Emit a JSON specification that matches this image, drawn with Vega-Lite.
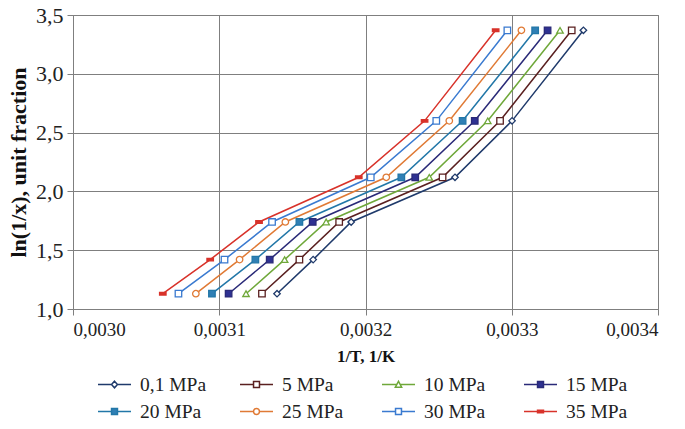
{
  "$schema": "https://vega.github.io/schema/vega-lite/v6.json",
  "width": 585,
  "height": 294,
  "autosize": {"type": "none"},
  "padding": {"left": 73, "top": 15, "right": 27, "bottom": 120},
  "background": "white",
  "config": {
    "font": "Liberation Serif",
    "view": {"stroke": "#7f7f7f", "strokeWidth": 1},
    "axis": {
      "gridColor": "#7f7f7f", "gridOpacity": 1, "gridWidth": 1,
      "domainColor": "#7f7f7f", "tickColor": "#7f7f7f", "tickSize": 6,
      "labelFont": "Liberation Serif", "labelColor": "#222",
      "titleFont": "Liberation Serif", "titleFontWeight": "bold", "titleColor": "#111"
    }
  },
  "data": {"values": [
    {"p": "0,1 MPa", "x": 0.0031395, "y": 1.13}, {"p": "0,1 MPa", "x": 0.0031642, "y": 1.42}, {"p": "0,1 MPa", "x": 0.0031902, "y": 1.74}, {"p": "0,1 MPa", "x": 0.0032612, "y": 2.12}, {"p": "0,1 MPa", "x": 0.0033002, "y": 2.60}, {"p": "0,1 MPa", "x": 0.003349, "y": 3.37},
    {"p": "5 MPa", "x": 0.0031292, "y": 1.13}, {"p": "5 MPa", "x": 0.0031548, "y": 1.42}, {"p": "5 MPa", "x": 0.003182, "y": 1.74}, {"p": "5 MPa", "x": 0.0032527, "y": 2.12}, {"p": "5 MPa", "x": 0.003292, "y": 2.60}, {"p": "5 MPa", "x": 0.003341, "y": 3.37},
    {"p": "10 MPa", "x": 0.0031183, "y": 1.13}, {"p": "10 MPa", "x": 0.0031447, "y": 1.42}, {"p": "10 MPa", "x": 0.0031731, "y": 1.74}, {"p": "10 MPa", "x": 0.0032436, "y": 2.12}, {"p": "10 MPa", "x": 0.0032836, "y": 2.60}, {"p": "10 MPa", "x": 0.003333, "y": 3.37},
    {"p": "15 MPa", "x": 0.0031064, "y": 1.13}, {"p": "15 MPa", "x": 0.0031345, "y": 1.42}, {"p": "15 MPa", "x": 0.0031639, "y": 1.74}, {"p": "15 MPa", "x": 0.003234, "y": 2.12}, {"p": "15 MPa", "x": 0.0032747, "y": 2.60}, {"p": "15 MPa", "x": 0.0033245, "y": 3.37},
    {"p": "20 MPa", "x": 0.003095, "y": 1.13}, {"p": "20 MPa", "x": 0.0031247, "y": 1.42}, {"p": "20 MPa", "x": 0.0031548, "y": 1.74}, {"p": "20 MPa", "x": 0.0032245, "y": 2.12}, {"p": "20 MPa", "x": 0.0032664, "y": 2.60}, {"p": "20 MPa", "x": 0.003316, "y": 3.37},
    {"p": "25 MPa", "x": 0.003084, "y": 1.13}, {"p": "25 MPa", "x": 0.0031139, "y": 1.42}, {"p": "25 MPa", "x": 0.0031452, "y": 1.74}, {"p": "25 MPa", "x": 0.0032142, "y": 2.12}, {"p": "25 MPa", "x": 0.0032573, "y": 2.60}, {"p": "25 MPa", "x": 0.0033066, "y": 3.37},
    {"p": "30 MPa", "x": 0.0030721, "y": 1.13}, {"p": "30 MPa", "x": 0.0031036, "y": 1.42}, {"p": "30 MPa", "x": 0.0031361, "y": 1.74}, {"p": "30 MPa", "x": 0.0032036, "y": 2.12}, {"p": "30 MPa", "x": 0.0032484, "y": 2.60}, {"p": "30 MPa", "x": 0.003297, "y": 3.37},
    {"p": "35 MPa", "x": 0.0030614, "y": 1.13}, {"p": "35 MPa", "x": 0.0030938, "y": 1.42}, {"p": "35 MPa", "x": 0.0031272, "y": 1.74}, {"p": "35 MPa", "x": 0.0031954, "y": 2.12}, {"p": "35 MPa", "x": 0.0032404, "y": 2.60}, {"p": "35 MPa", "x": 0.003289, "y": 3.37}
  ]},
  "encoding": {
    "x": {
      "field": "x", "type": "quantitative",
      "scale": {"domain": [0.003, 0.0034], "nice": false, "zero": false},
      "axis": {"values": [0.003, 0.0031, 0.0032, 0.0033, 0.0034], "labelExpr": "replace(format(datum.value, '.4f'), '.', ',')", "title": "1/T, 1/K", "labelFontSize": 19, "titleFontSize": 17, "labelPadding": 5, "titlePadding": 9}
    },
    "y": {
      "field": "y", "type": "quantitative",
      "scale": {"domain": [1, 3.5], "nice": false, "zero": false},
      "axis": {"values": [1, 1.5, 2, 2.5, 3, 3.5], "labelExpr": "replace(format(datum.value, '.1f'), '.', ',')", "title": "ln(1/x), unit fraction", "labelFontSize": 22, "titleFontSize": 22, "labelPadding": 4, "titlePadding": 5}
    }
  },
  "layer": [
    {
      "mark": {"type": "line", "strokeWidth": 1.5},
      "encoding": {
        "color": {
          "field": "p", "type": "nominal",
          "scale": {
            "domain": ["0,1 MPa", "5 MPa", "10 MPa", "15 MPa", "20 MPa", "25 MPa", "30 MPa", "35 MPa"],
            "range": ["#1F3A6B", "#5A2020", "#6FA83A", "#2A2A78", "#2277A8", "#E07A35", "#3A7AD0", "#D8322A"]
          },
          "legend": {
            "orient": "none", "legendX": 24, "legendY": 352, "direction": "horizontal", "columns": 4,
            "title": null, "gridAlign": "all", "columnPadding": 30, "rowPadding": -6,
            "labelFont": "Liberation Serif", "labelFontSize": 19.5, "labelColor": "#222", "labelOffset": 8,
            "symbolSize": 1089, "symbolStrokeWidth": 1.5,
            "encode": {"symbols": {"update": {
              "shape": {"signal": "datum.value=='0,1 MPa'?'M-1,0H-0.18M0.18,0H1M0,-0.2L0.18,0L0,0.2L-0.18,0Z':datum.value=='10 MPa'?'M-1,0H-0.11M0.11,0H1M-0.19,0.16L0,-0.19L0.19,0.16Z':datum.value=='25 MPa'?'M-1,0H-0.18M0.18,0H1M-0.18,0A0.18,0.18 0 1,0 0.18,0A0.18,0.18 0 1,0 -0.18,0Z':datum.value=='35 MPa'?'M-1,0H1M-0.18,-0.07H0.18V0.07H-0.18Z':'M-1,0H-0.18M0.18,0H1M-0.18,-0.18H0.18V0.18H-0.18Z'"},
              "fill": {"signal": "datum.value=='15 MPa'?'#2E3192':datum.value=='20 MPa'?'#2F7FB5':datum.value=='35 MPa'?'#D8322A':'white'"}
            }}}
          }
        }
      }
    },
    {
      "mark": {"type": "point", "filled": false, "opacity": 1, "size": 42, "strokeWidth": 1.3},
      "encoding": {
        "stroke": {
          "condition": [
            {"test": "datum.p=='0,1 MPa'", "value": "#1F3A6B"},
            {"test": "datum.p=='5 MPa'", "value": "#5A2020"},
            {"test": "datum.p=='10 MPa'", "value": "#6FA83A"},
            {"test": "datum.p=='15 MPa'", "value": "#2A2A78"},
            {"test": "datum.p=='20 MPa'", "value": "#2277A8"},
            {"test": "datum.p=='25 MPa'", "value": "#E07A35"},
            {"test": "datum.p=='30 MPa'", "value": "#3A7AD0"}
          ],
          "value": "#D8322A"
        },
        "shape": {
          "condition": [
            {"test": "datum.p=='0,1 MPa'", "value": "diamond"},
            {"test": "datum.p=='10 MPa'", "value": "triangle-up"},
            {"test": "datum.p=='25 MPa'", "value": "circle"},
            {"test": "datum.p=='35 MPa'", "value": "M-1,-0.4H1V0.4H-1Z"}
          ],
          "value": "square"
        },
        "fill": {
          "condition": [
            {"test": "datum.p=='15 MPa'", "value": "#2E3192"},
            {"test": "datum.p=='20 MPa'", "value": "#2F7FB5"},
            {"test": "datum.p=='35 MPa'", "value": "#D8322A"}
          ],
          "value": "white"
        }
      }
    }
  ]
}
